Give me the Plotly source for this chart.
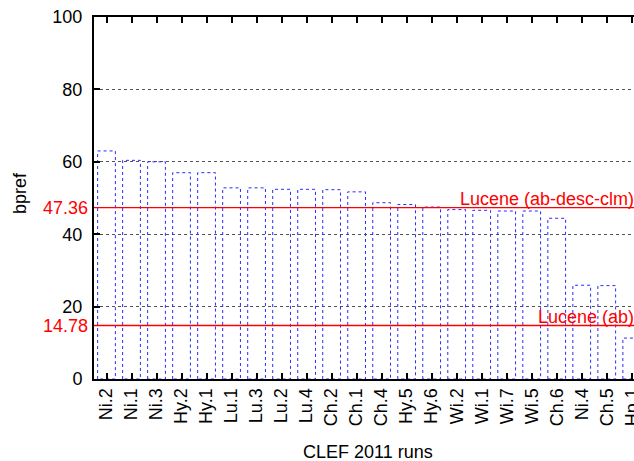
import plotly.graph_objects as go

runs = ["Ni.2", "Ni.1", "Ni.3", "Hy.2", "Hy.1", "Lu.1", "Lu.3", "Lu.2", "Lu.4", "Ch.2", "Ch.1",
        "Ch.4", "Hy.5", "Hy.6", "Wi.2", "Wi.1", "Wi.7", "Wi.5", "Ch.6", "Ni.4", "Ch.5", "Hp.1"]
bpref = [63.0, 60.4, 60.0, 57.0, 57.0, 52.8, 52.8, 52.4, 52.4, 52.3, 51.7,
         48.7, 48.2, 47.5, 46.8, 46.6, 46.4, 46.4, 44.4, 25.9, 25.8, 11.3]
base_values = [47.36, 14.78]
base_labels = ["Lucene (ab-desc-clm)", "Lucene (ab)"]
y_ticks = [0, 20, 40, 60, 80, 100]

FONT = "Liberation Sans, Arial, Helvetica, sans-serif"
half = 0.355

xs, ys = [], []
for i, v in enumerate(bpref):
    xs += [i - half, i - half, i + half, i + half, i - half, None]
    ys += [0, v, v, 0, 0, None]

fig = go.Figure()
fig.add_trace(go.Scatter(x=xs, y=ys, mode="lines", hoverinfo="skip",
                         line=dict(color="#2a2aff", width=1, dash="3px,3px"),
                         showlegend=False))

x_lo, x_hi = -0.5, 21.09
for v, lab in zip(base_values, base_labels):
    fig.add_trace(go.Scatter(x=[x_lo, x_hi], y=[v, v], mode="lines", hoverinfo="skip",
                             line=dict(color="#ff0000", width=1.3), showlegend=False))
    fig.add_annotation(xref="paper", x=1, yref="y", y=v, text=lab, showarrow=False,
                       xanchor="right", yanchor="bottom", xshift=2, yshift=-3,
                       font=dict(family=FONT, size=18, color="#ff0000"))
    fig.add_annotation(xref="paper", x=0, yref="y", y=v, text=f"{v:.2f}", showarrow=False,
                       xanchor="right", yanchor="middle", xshift=-4,
                       font=dict(family=FONT, size=18, color="#ff0000"))

fig.add_annotation(xref="paper", yref="paper", x=(20 - 94) / 540, y=(379 - 193) / 362,
                   text="bpref", textangle=-90, showarrow=False,
                   xanchor="center", yanchor="middle",
                   font=dict(family=FONT, size=18, color="black"))
fig.add_annotation(xref="paper", yref="paper", x=(368 - 94) / 540, y=-(452 - 379) / 362,
                   text="CLEF 2011 runs", showarrow=False,
                   xanchor="center", yanchor="middle",
                   font=dict(family=FONT, size=18, color="black"))

fig.update_xaxes(range=[x_lo, x_hi], tickmode="array", tickvals=list(range(len(runs))),
                 ticktext=runs, tickangle=-90, ticks="inside", ticklen=6, tickwidth=1.5,
                 tickcolor="black", showline=True, linecolor="black", linewidth=2,
                 mirror="ticks", showgrid=False, zeroline=False,
                 ticklabeloverflow="allow", automargin=False,
                 tickfont=dict(family=FONT, size=18, color="black"))
fig.update_yaxes(range=[0, 100], tickmode="array", tickvals=y_ticks,
                 ticks="inside", ticklen=6, tickwidth=1.5, tickcolor="black",
                 showline=True, linecolor="black", linewidth=2, mirror=False,
                 showgrid=True, gridcolor="#555555", griddash="dot", gridwidth=1,
                 zeroline=False, ticklabelstandoff=6, automargin=False,
                 tickfont=dict(family=FONT, size=18, color="black"))

fig.update_layout(width=634, height=461, margin=dict(l=94, r=0, t=17, b=82),
                  paper_bgcolor="white", plot_bgcolor="white",
                  font=dict(family=FONT, size=18, color="black"))

fig.write_html("out.html")
